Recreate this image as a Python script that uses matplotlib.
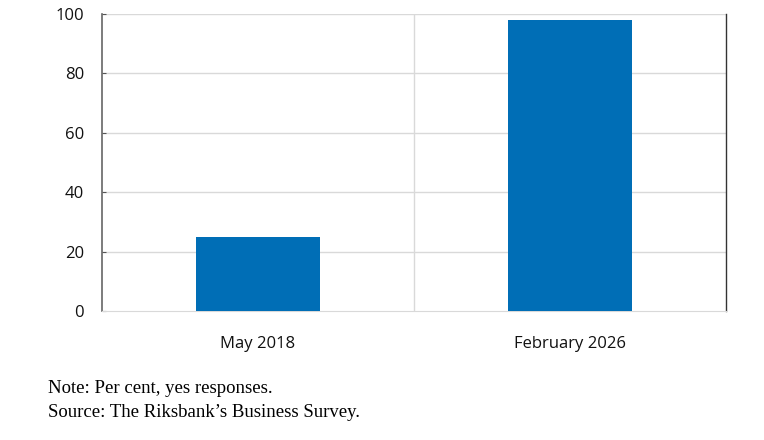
import matplotlib
matplotlib.use("Agg")
import matplotlib.pyplot as plt

categories = ["May 2018", "February 2026"]
values = [25, 98]
yticks = [0, 20, 40, 60, 80, 100]
note_lines = ["Note: Per cent, yes responses.", "Source: The Riksbank\u2019s Business Survey."]

fig = plt.figure(figsize=(7.64, 4.40), dpi=100)
ax = fig.add_axes([102/764, 1 - 311/440, (726-102)/764, (311-14)/440])

x = list(range(len(categories)))
ax.bar(x, values, width=0.4, color="#006EB6", zorder=3)
ax.set_xlim(-0.5, len(categories) - 0.5)
ax.set_ylim(0, 100)
ax.set_yticks(yticks)
ax.set_yticklabels([str(v) for v in yticks], fontsize=12, family="Open Sans", color="#111111")
ax.set_xticks(x)
ax.set_xticklabels(categories, fontsize=12, family="Open Sans", color="#111111")
ax.tick_params(axis="x", length=0, pad=18)
ax.tick_params(axis="y", direction="in", length=3, color="#555555", pad=13)

for v in yticks[1:]:
    ax.axhline(v, color="#d9d9d9", lw=1, zorder=1)
for b in [0.5]:
    ax.axvline(b, color="#d9d9d9", lw=1, zorder=1)

ax.spines["top"].set_visible(False)
ax.spines["bottom"].set_color("#d9d9d9")
ax.spines["left"].set_color("#666666")
ax.spines["left"].set_linewidth(1.2)
ax.spines["right"].set_color("#333333")
ax.spines["right"].set_linewidth(1.0)

fig.text(48/764, 1 - 388/440, note_lines[0], fontsize=13.5, family="Liberation Serif", va="center")
fig.text(48/764, 1 - 412/440, note_lines[1], fontsize=13.5, family="Liberation Serif", va="center")

fig.savefig("out.png", dpi=100)
